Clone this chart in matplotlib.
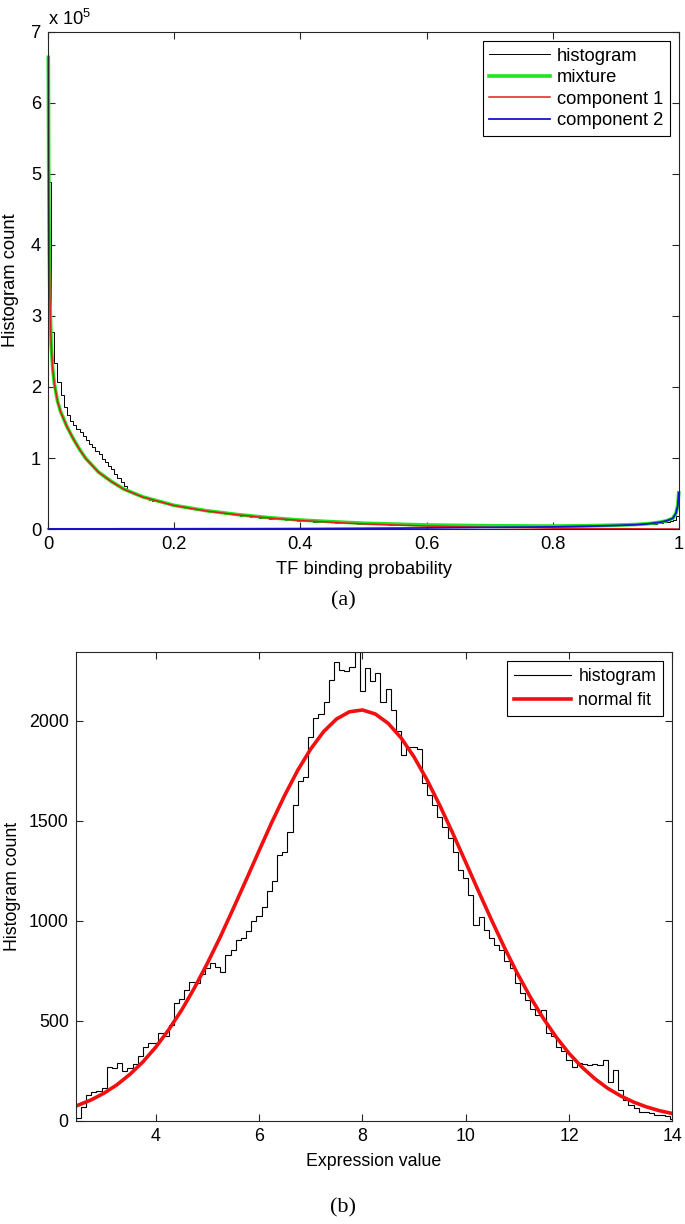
import numpy as np
import matplotlib
matplotlib.use('Agg')
import matplotlib.pyplot as plt

plt.rcParams['font.family'] = ['Liberation Sans', 'DejaVu Sans']
plt.rcParams['mathtext.fontset'] = 'custom'
plt.rcParams['mathtext.rm'] = 'Liberation Sans'

# ---- panel (a): TF binding probability, counts in thousands ----
bin_w_a = 0.005
hist_a_k = [489, 278, 234, 207, 189, 172, 160, 152, 146, 141,
            136, 131, 125, 120, 115, 110, 105, 99, 94, 89,
            84, 78, 72, 66, 60, 55, 52, 50, 48, 46,
            44, 43, 41.5, 40, 39, 38, 37, 36, 35, 34,
            33, 32, 31, 30, 29.5, 28.5, 28, 27, 26.5, 26,
            25, 24.5, 24, 23.5, 22.5, 22, 21.5, 21, 20.5, 20,
            19.5, 19, 18.5, 18, 17.5, 17, 16.5, 16, 15.5, 15,
            14.8, 14.4, 14, 13.7, 13.4, 13, 12.7, 12.4, 12.1, 11.8,
            11.5, 11.2, 11, 10.8, 10.5, 10.3, 10, 9.8, 9.6, 9.4,
            9.2, 9, 8.8, 8.6, 8.4, 8.2, 8, 7.9, 7.7, 7.5,
            7.4, 7.2, 7.1, 6.9, 6.8, 6.7, 6.5, 6.4, 6.3, 6.2,
            6.1, 6, 5.9, 5.8, 5.7, 5.6, 5.5, 5.5, 5.4, 5.3,
            5.2, 5.2, 5.1, 5, 5, 4.9, 4.9, 4.8, 4.8, 4.7,
            4.7, 4.6, 4.6, 4.5, 4.5, 4.5, 4.4, 4.4, 4.4, 4.3,
            4.3, 4.3, 4.2, 4.2, 4.2, 4.2, 4.1, 4.1, 4.1, 4.1,
            4.1, 4.1, 4.0, 4.0, 4.0, 4.0, 4.0, 4.0, 4.0, 4.0,
            4.0, 4.0, 4.1, 4.1, 4.1, 4.2, 4.2, 4.2, 4.3, 4.3,
            4.4, 4.4, 4.5, 4.6, 4.6, 4.7, 4.8, 4.9, 5.0, 5.1,
            5.2, 5.3, 5.4, 5.6, 5.7, 5.9, 6.1, 6.3, 6.5, 6.8,
            7.0, 7.3, 7.7, 8.1, 8.6, 9.2, 10, 11, 12.5, 18]

curve_x = [0.0005, 0.001, 0.002, 0.003, 0.005, 0.0075, 0.01, 0.015, 0.02, 0.03,
           0.04, 0.05, 0.06, 0.08, 0.1, 0.12, 0.15, 0.2, 0.25, 0.3,
           0.35, 0.4, 0.45, 0.5, 0.6, 0.7, 0.8, 0.85, 0.9, 0.93,
           0.95, 0.97, 0.98, 0.99, 0.995, 0.998, 0.9995]
mixture_k = [664.2, 520.2, 390.2, 325.2, 260.2, 225.2, 205.2, 180.2, 165.2, 144.2,
             127.2, 112.2, 99.2, 80.2, 67.2, 56.3, 45.3, 33.3, 25.9, 20.4,
             16.0, 12.6, 10.3, 8.2, 5.7, 4.6, 4.2, 4.6, 5.5, 6.3,
             7.4, 9.6, 11.6, 15.0, 22.0, 33.0, 51.0]
comp1_k = [664, 520, 390, 325, 260, 225, 205, 180, 165, 144,
           127, 112, 99, 80, 67, 56, 45, 33, 25.5, 20,
           15.5, 12, 9.5, 7.2, 4.2, 2.4, 1.2, 0.8, 0.5, 0.3,
           0.2, 0.1, 0.08, 0.04, 0.02, 0.01, 0.0]
comp2_k = [0.2, 0.2, 0.2, 0.2, 0.2, 0.2, 0.2, 0.2, 0.2, 0.2,
           0.2, 0.2, 0.2, 0.2, 0.2, 0.3, 0.3, 0.3, 0.4, 0.4,
           0.5, 0.6, 0.8, 1.0, 1.5, 2.2, 3.0, 3.8, 5.0, 6.0,
           7.2, 9.5, 11.5, 15, 22, 33, 51]
xticks_a = [0, 0.2, 0.4, 0.6, 0.8, 1]
xtick_labels_a = ['0', '0.2', '0.4', '0.6', '0.8', '1']
yticks_a = [0, 1, 2, 3, 4, 5, 6, 7]

# ---- panel (b): expression values ----
bin_lo_b = 2.45
bin_w_b = 0.1
hist_b = [15, 70, 130, 145, 150, 165, 270, 262, 290, 250,
          262, 285, 325, 370, 390, 390, 437, 425, 480, 590,
          610, 655, 695, 690, 735, 762, 787, 770, 745, 828,
          855, 903, 915, 950, 1000, 1025, 1070, 1150, 1200, 1330,
          1345, 1445, 1580, 1700, 1720, 1920, 2013, 2037, 2095, 2203,
          2295, 2255, 2250, 2270, 2345, 2150, 2265, 2200, 2240, 2095,
          2160, 2055, 1950, 1828, 1870, 1870, 1860, 1688, 1628, 1580,
          1520, 1470, 1413, 1345, 1253, 1212, 1128, 978, 1020, 953,
          913, 880, 853, 800, 763, 688, 640, 603, 560, 528,
          553, 440, 423, 368, 350, 303, 270, 287, 285, 280,
          285, 280, 303, 195, 253, 153, 103, 80, 63, 45,
          42, 40, 28, 30, 25, 10]
fit_x = [2.45, 2.5, 2.75, 3.0, 3.25, 3.5, 3.75, 4.0, 4.25, 4.5, 4.75, 5.0,
         5.25, 5.5, 5.75, 6.0, 6.25, 6.5, 6.75, 7.0, 7.25, 7.5, 7.75, 8.0,
         8.25, 8.5, 8.75, 9.0, 9.25, 9.5, 9.75, 10.0, 10.25, 10.5, 10.75, 11.0,
         11.25, 11.5, 11.75, 12.0, 12.25, 12.5, 12.75, 13.0, 13.25, 13.5, 13.75, 14.0]
fit_y = [73, 78, 104, 138, 180, 232, 294, 368, 455, 553, 665, 788,
         920, 1061, 1205, 1351, 1495, 1630, 1754, 1860, 1947, 2010, 2046, 2055,
         2035, 1988, 1915, 1820, 1706, 1577, 1438, 1293, 1147, 1004, 866, 737,
         619, 513, 419, 337, 268, 210, 162, 124, 93, 69, 50, 36]
xticks_b = [4, 6, 8, 10, 12, 14]
yticks_b = [0, 500, 1000, 1500, 2000]

FS_A = 13.2
FS_B = 12.8


def style_axes(ax, fs):
    for sp in ax.spines.values():
        sp.set_color('#262626')
        sp.set_linewidth(0.8)
    ax.tick_params(direction='in', top=True, right=True, length=5, width=0.8,
                   labelsize=fs, pad=5, color='#262626')


fig = plt.figure(figsize=(6.85, 12.24), dpi=100)

# panel (a)
ax1 = fig.add_axes([0.0701, 0.5678, 0.9212, 0.4061])
edges_a = bin_w_a * np.arange(len(hist_a_k) + 1)
ax1.stairs(np.array(hist_a_k) * 1e3, edges_a, color='black', lw=0.7, label='histogram', baseline=0)
ax1.plot(curve_x, np.array(mixture_k) * 1e3, color='#1ee61e', lw=2.6, label='mixture', clip_on=False)
ax1.plot(curve_x, np.array(comp1_k) * 1e3, color='#e01e1e', lw=1.1, label='component 1', clip_on=False)
ax1.plot(curve_x, np.array(comp2_k) * 1e3, color='#1414d2', lw=1.3, label='component 2', clip_on=False)
ax1.set_xlim(0, 1)
ax1.set_ylim(0, 7e5)
ax1.set_xticks(xticks_a, labels=xtick_labels_a)
ax1.set_yticks([v * 1e5 for v in yticks_a], labels=[str(v) for v in yticks_a])
style_axes(ax1, FS_A)
ax1.set_xlabel('TF binding probability', fontsize=FS_A)
ax1.set_ylabel('Histogram count', fontsize=FS_A)
ax1.xaxis.set_label_coords(0.5, -0.064)
ax1.yaxis.set_label_coords(-0.046, 0.5)
ax1.text(0.0, 1.006, r'x 10$^{5}$', transform=ax1.transAxes, ha='left', va='bottom', fontsize=FS_A)
ax1.legend(loc='upper right', fancybox=False, edgecolor='black', framealpha=1, fontsize=FS_A,
           handlelength=3.3, handletextpad=0.4, labelspacing=0.25, borderaxespad=0.5,
           borderpad=0.35).get_frame().set_linewidth(0.8)

# panel (b)
ax2 = fig.add_axes([0.1105, 0.0844, 0.8710, 0.3829])
edges_b = bin_lo_b + bin_w_b * np.arange(len(hist_b) + 1)
ax2.stairs(hist_b, edges_b, color='black', lw=0.8, label='histogram', baseline=0)
ax2.plot(fit_x, fit_y, color='#f01010', lw=2.6, label='normal fit')
ax2.set_xlim(bin_lo_b, 14)
ax2.set_ylim(0, max(hist_b))
ax2.set_xticks(xticks_b)
ax2.set_yticks(yticks_b)
style_axes(ax2, FS_B)
ax2.set_xlabel('Expression value', fontsize=FS_B)
ax2.set_ylabel('Histogram count', fontsize=FS_B)
ax2.xaxis.set_label_coords(0.5, -0.068)
ax2.yaxis.set_label_coords(-0.092, 0.5)
ax2.legend(loc='upper right', fancybox=False, edgecolor='black', framealpha=1, fontsize=FS_B,
           handlelength=3.2, handletextpad=0.4, labelspacing=0.4, borderaxespad=0.5,
           borderpad=0.4).get_frame().set_linewidth(0.8)

fig.text(0.5007, 0.509, '(a)', ha='center', va='center', fontsize=16, family='Liberation Serif')
fig.text(0.5007, 0.013, '(b)', ha='center', va='center', fontsize=16, family='Liberation Serif')

fig.savefig('out.png', dpi=100)
